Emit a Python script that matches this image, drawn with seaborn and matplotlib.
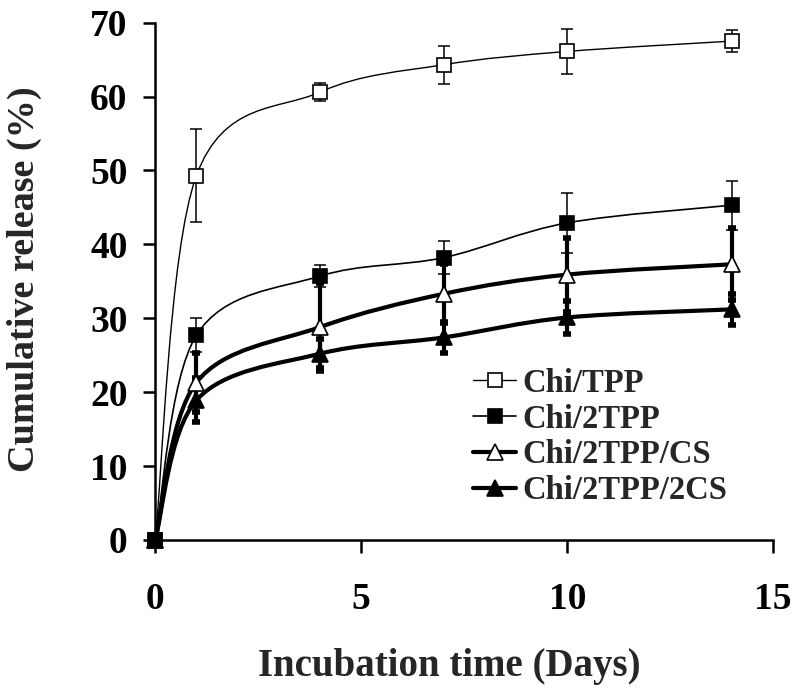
import numpy as np
import matplotlib
matplotlib.use("Agg")
import matplotlib.pyplot as plt
from matplotlib.path import Path
from matplotlib.patches import PathPatch
import seaborn as sns

# data

days = [0, 1, 4, 7, 10, 14]

series_names = ["Chi/TPP", "Chi/2TPP", "Chi/2TPP/CS", "Chi/2TPP/2CS"]

chi_tpp = [0, 49.3, 60.6, 64.3, 66.1, 67.5]
chi_tpp_err = [0, 6.3, 1.2, 2.6, 3.1, 1.5]

chi_2tpp = [0, 27.7, 35.7, 38.2, 42.9, 45.3]
chi_2tpp_err = [0, 2.3, 1.5, 2.2, 4.1, 3.3]

chi_2tpp_cs = [0, 21.3, 28.8, 33.3, 35.9, 37.3]
chi_2tpp_cs_err = [0, 4.0, 6.0, 4.0, 5.0, 4.9]

chi_2tpp_2cs = [0, 18.9, 25.2, 27.4, 30.1, 31.2]
chi_2tpp_2cs_err = [0, 3.0, 2.0, 2.1, 2.2, 2.1]

x_ticks = [0, 5, 10, 15]
y_ticks = [0, 10, 20, 30, 40, 50, 60, 70]

# style

sns.set_style("ticks")
plt.rcParams['font.family'] = ['Liberation Serif', 'DejaVu Serif']
plt.rcParams['font.weight'] = 'bold'


def smooth_path(x, y):
    # excel-like smoothed line: bezier segments through the data points
    pts = np.column_stack([x, y]).astype(float)
    n = len(pts)
    verts = [pts[0]]
    codes = [Path.MOVETO]
    for i in range(n - 1):
        p0 = pts[i - 1] if i > 0 else pts[i]
        p1 = pts[i]
        p2 = pts[i + 1]
        p3 = pts[i + 2] if i + 2 < n else pts[i + 1]
        c1 = p1 + (p2 - p0) / 6.0
        c2 = p2 - (p3 - p1) / 6.0
        verts += [c1, c2, p2]
        codes += [Path.CURVE4] * 3
    return Path(verts, codes)


fig = plt.figure(figsize=(8, 6.94), dpi=100)
ax = fig.add_axes([0.194, 0.222, 0.7725, 0.7454])

styles = [
    dict(y=chi_tpp, err=chi_tpp_err, marker='s', face='white', lw=1.0, elw=1.1, cap=4, capw=1.1, ms=10.5),
    dict(y=chi_2tpp, err=chi_2tpp_err, marker='s', face='black', lw=1.2, elw=1.1, cap=4, capw=1.1, ms=10.5),
    dict(y=chi_2tpp_cs, err=chi_2tpp_cs_err, marker='^', face='white', lw=3.0, elw=3.0, cap=3, capw=4.0, ms=12),
    dict(y=chi_2tpp_2cs, err=chi_2tpp_2cs_err, marker='^', face='black', lw=3.0, elw=3.0, cap=3, capw=4.0, ms=12),
]

handles = []
for name, st in zip(series_names, styles):
    ax.errorbar(days, st['y'], yerr=st['err'], fmt='none', ecolor='black',
                elinewidth=st['elw'], capsize=st['cap'], capthick=st['capw'],
                zorder=2, clip_on=False)
    ax.add_patch(PathPatch(smooth_path(days, st['y']), facecolor='none',
                           edgecolor='black', lw=st['lw'], zorder=3, clip_on=False))
    ax.plot(days, st['y'], linestyle='none', marker=st['marker'], ms=st['ms'],
            markerfacecolor=st['face'], markeredgecolor='black', markeredgewidth=1.2,
            zorder=4, clip_on=False)
    h, = ax.plot([], [], color='black', lw=st['lw'], marker=st['marker'], ms=st['ms'],
                 markerfacecolor=st['face'], markeredgecolor='black', markeredgewidth=1.2)
    handles.append(h)

ax.set_xlim(0, 15)
ax.set_ylim(0, 70)
ax.set_xticks(x_ticks)
ax.set_yticks(y_ticks)
sns.despine(ax=ax)

for side in ['left', 'bottom']:
    ax.spines[side].set_linewidth(1.8)
    ax.spines[side].set_color('black')

ax.tick_params(axis='both', direction='out', length=9, width=1.8, colors='black',
               labelsize=27)
ax.tick_params(axis='x', pad=21)
ax.tick_params(axis='y', pad=11)
for lab in ax.get_xticklabels() + ax.get_yticklabels():
    lab.set_fontweight('bold')

ax.set_xlabel('Incubation time (Days)', fontsize=28, fontweight='bold')
ax.set_ylabel('Cumulative release (%)', fontsize=27.5, fontweight='bold')
ax.xaxis.set_label_coords(0.476, -0.209)
ax.yaxis.set_label_coords(-0.183, 0.5045)

ax.legend(handles, series_names, loc='center left', bbox_to_anchor=(0.5146, 0.199),
          frameon=False, prop={'weight': 'bold', 'size': 23.5},
          handlelength=1.32, handletextpad=0.18, labelspacing=0.15, borderpad=0,
          borderaxespad=0)

fig.savefig('out.png', dpi=100)
